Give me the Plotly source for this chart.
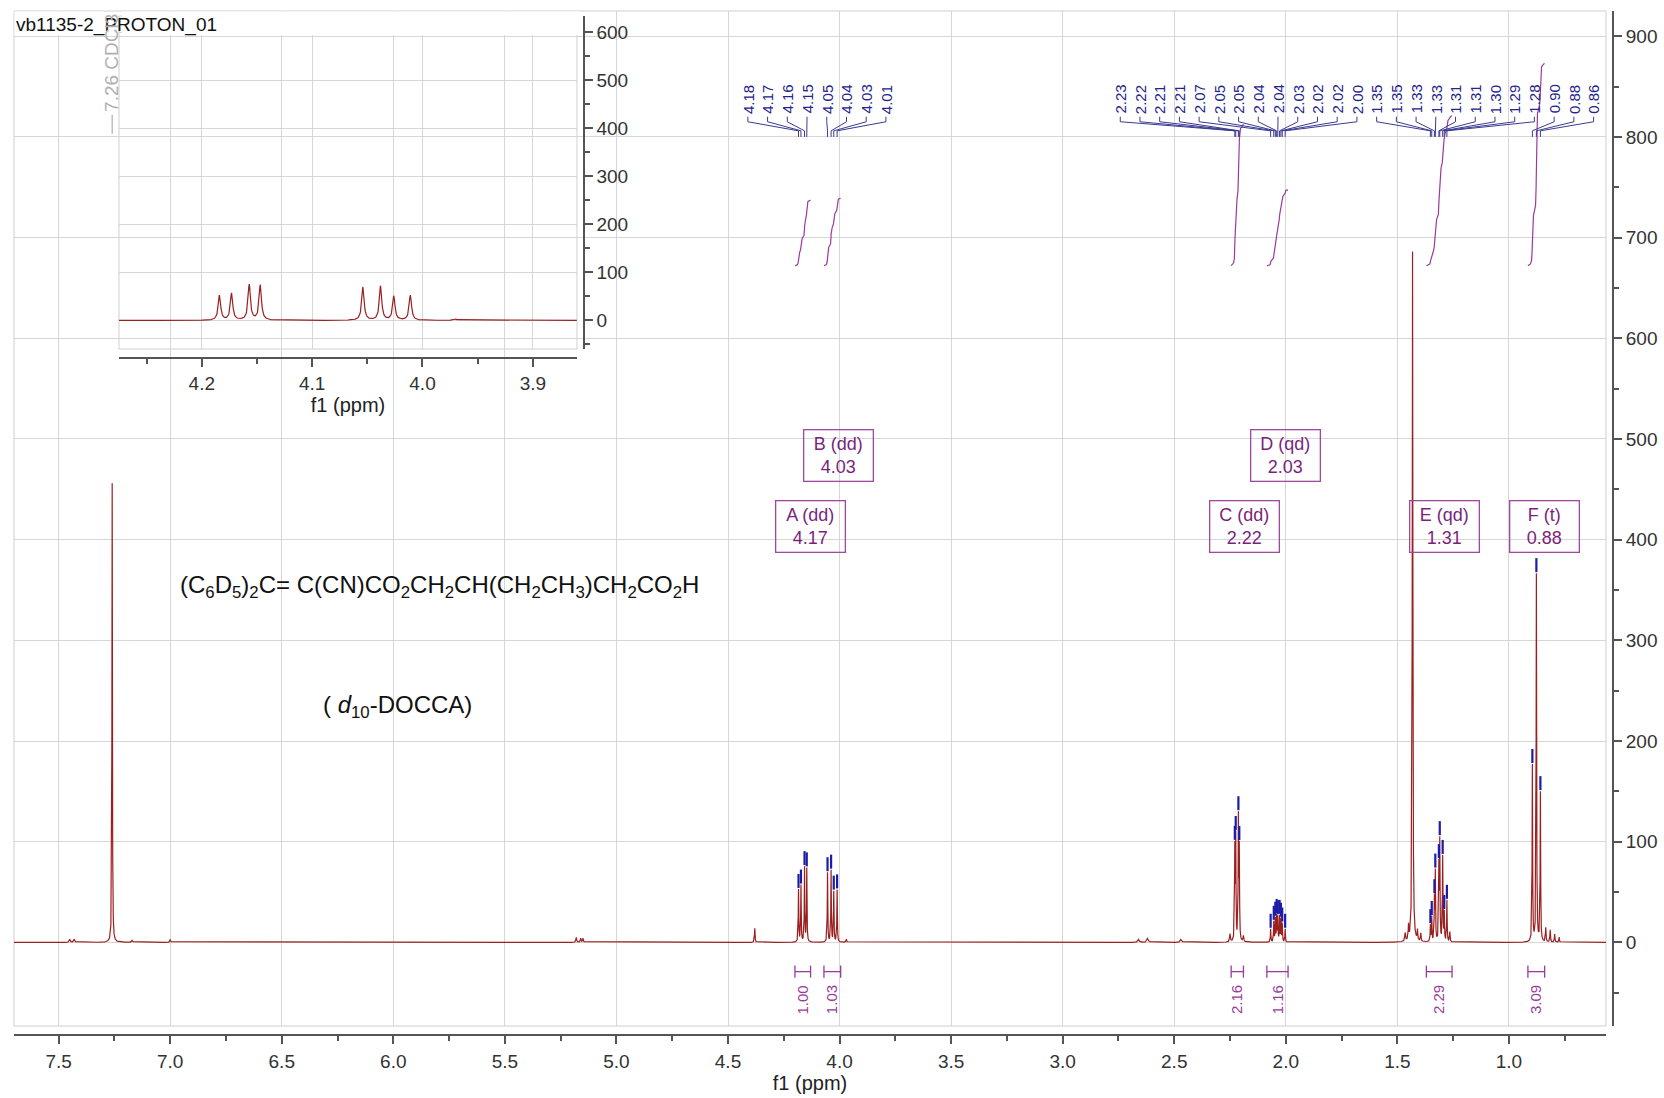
import numpy as np
import plotly.graph_objects as go

# ---------------- peak table (ppm, intensity) ----------------
picked_ppm = [4.184, 4.173, 4.157, 4.147, 4.054, 4.038, 4.026, 4.011,
              2.2285, 2.2245, 2.2125, 2.2085,
              2.068, 2.054, 2.047, 2.041, 2.036, 2.028, 2.022, 2.016, 2.003,
              1.352, 1.346, 1.334, 1.330, 1.314, 1.310, 1.297, 1.290, 1.278,
              0.895, 0.877, 0.859]
picked_height = [52, 56, 74, 73, 69, 71, 50, 52,
                 90, 100, 120, 88,
                 13, 20, 23, 25, 24, 25, 22, 18, 13,
                 16, 24, 40, 68, 72, 97, 84, 28, 41,
                 175, 365, 148]
picked_labels = ["4.18", "4.17", "4.16", "4.15", "4.05", "4.04", "4.03", "4.01",
                 "2.23", "2.22", "2.21", "2.21",
                 "2.07", "2.05", "2.05", "2.04", "2.04", "2.03", "2.02", "2.02", "2.00",
                 "1.35", "1.35", "1.33", "1.33", "1.31", "1.31", "1.30", "1.29", "1.28",
                 "0.90", "0.88", "0.86"]

# solvent, water and minor signals (not picked)
other_ppm = [7.26, 1.432, 7.45, 7.43, 7.17, 7.00, 5.18, 5.16, 5.15, 4.38, 3.97,
             2.66, 2.62, 2.47, 2.25, 2.19, 1.465, 1.45, 1.41, 1.395, 1.265,
             0.835, 0.815, 0.795, 0.775]
other_height = [456, 686, 3, 3, 2, 3, 5, 4, 4, 14, 3,
                3, 4, 3, 8, 6, 8, 14, 10, 8, 10,
                14, 12, 8, 5]
other_width = [0.0012, 0.0016, 0.003, 0.003, 0.003, 0.002, 0.002, 0.002, 0.002, 0.0015, 0.002,
               0.004, 0.004, 0.004, 0.002, 0.002, 0.002, 0.0015, 0.0015, 0.0015, 0.0015,
               0.0015, 0.0015, 0.0015, 0.0015]

# multiplet report
mult_names = ["A", "B", "C", "D", "E", "F"]
mult_types = ["dd", "dd", "dd", "qd", "qd", "t"]
mult_shifts = ["4.17", "4.03", "2.22", "2.03", "1.31", "0.88"]
integral_values = [1.00, 1.03, 2.16, 1.16, 2.29, 3.09]
integral_from = [4.20, 4.07, 2.245, 2.085, 1.37, 0.915]
integral_to = [4.13, 3.995, 2.19, 1.99, 1.255, 0.84]

# ---------------- page geometry ----------------
W, H = 1664, 1098
ML, MR, MT, MB = 14, 51, 11, 63
PW = W - ML - MR
PH = H - MT - MB


def px_x(px):
    return (px - ML) / PW


def px_y(py):
    return (H - MB - py) / PH


FONT = "Liberation Sans, Arial, sans-serif"
RED = "#9a1f1f"
BLUE = "#24248c"
PURPLE = "#983c98"
GRID = "#d6d6d6"

X_RANGE = [7.70, 0.565]
Y_RANGE = [-83, 925]
INSET_X = [4.275, 3.860]
INSET_Y = [-59.5, 634]

# ---------------- spectrum ----------------
ppm = np.union1d(np.arange(0.565, 7.7005, 0.0004),
                 np.array(picked_ppm + other_ppm))
spec = np.zeros_like(ppm)
LW = 0.0013
for p0, h in zip(picked_ppm, picked_height):
    spec += h / (1.0 + ((ppm - p0) / LW) ** 2)
for p0, h, w in zip(other_ppm, other_height, other_width):
    spec += h / (1.0 + ((ppm - p0) / w) ** 2)

fig = go.Figure()
fig.add_trace(go.Scatter(x=ppm, y=spec, mode="lines",
                         line=dict(color=RED, width=1.2), hoverinfo="skip"))

# integral curves (cumulative area from high to low field)
INT_BASE = 672
INT_SCALE = 65
ix, iy = [], []
for lo, hi, val in zip(integral_to, integral_from, integral_values):
    m = (ppm >= lo) & (ppm <= hi)
    xs = ppm[m][::-1]
    cs = np.cumsum(spec[m][::-1])
    cs = cs / cs[-1]
    ix += list(xs) + [None]
    iy += list(INT_BASE + cs * val * INT_SCALE) + [None]
fig.add_trace(go.Scatter(x=ix, y=iy, mode="lines",
                         line=dict(color=PURPLE, width=1.2), hoverinfo="skip"))

# integration brackets under the baseline
BR_Y = -29
bx, by = [], []
for lo, hi in zip(integral_to, integral_from):
    bx += [hi, lo, None, hi, hi, None, lo, lo, None]
    by += [BR_Y, BR_Y, None, BR_Y + 6, BR_Y - 6, None, BR_Y + 6, BR_Y - 6, None]
fig.add_trace(go.Scatter(x=bx, y=by, mode="lines",
                         line=dict(color=PURPLE, width=1.3), hoverinfo="skip"))

# peak-pick markers just above each picked line
pk_y = [float(np.interp(p, ppm, spec)) + 8 for p in picked_ppm]
fig.add_trace(go.Scatter(x=picked_ppm, y=pk_y, mode="markers",
                         marker=dict(symbol="line-ns", size=10,
                                     line=dict(color="#1c1ca8", width=2.2)),
                         hoverinfo="skip"))

# peak label positions: evenly spread in two groups across the top
STEP = 19.72 / 223.1
label_x = [4.411 - i * STEP for i in range(8)] + [2.742 - i * STEP for i in range(25)]
lx, ly = [], []
for lab_x, p in zip(label_x, picked_ppm):
    lx += [lab_x, lab_x, p, p, None]
    ly += [820, 815, 806, 800, None]
fig.add_trace(go.Scatter(x=lx, y=ly, mode="lines",
                         line=dict(color="#3a3a92", width=1), hoverinfo="skip"))

# zoomed inset of the 4.0-4.2 region
m_in = (ppm >= INSET_X[1]) & (ppm <= INSET_X[0])
fig.add_trace(go.Scatter(x=ppm[m_in], y=spec[m_in], mode="lines",
                         line=dict(color=RED, width=1.2), hoverinfo="skip",
                         xaxis="x2", yaxis="y2"))

annotations = []

# data set title
annotations.append(dict(
    x=px_x(14), y=px_y(25), xref="paper", yref="paper", xanchor="left",
    yanchor="middle", showarrow=False, text="vb1135-2_PROTON_01",
    font=dict(family=FONT, size=19, color="#111111")))

for lab_x, txt in zip(label_x, picked_labels):
    annotations.append(dict(x=lab_x, y=821, xref="x", yref="y", text=txt,
                            textangle=-90, showarrow=False, xanchor="center",
                            yanchor="bottom",
                            font=dict(family=FONT, size=15, color=BLUE)))

# solvent label
annotations.append(dict(x=7.26, y=823, xref="x", yref="y", text="7.26 CDCl3",
                        textangle=-90, showarrow=False, xanchor="center",
                        yanchor="bottom",
                        font=dict(family=FONT, size=19, color="#b0b0b0")))

# integral values
for lo, hi, val in zip(integral_to, integral_from, integral_values):
    annotations.append(dict(x=(lo + hi) / 2, y=-57, xref="x", yref="y",
                            text=f"{val:.2f}", textangle=-90, showarrow=False,
                            font=dict(family=FONT, size=15, color=PURPLE)))

# multiplet boxes
box_x = [4.129, 4.003, 2.183, 2.0, 1.287, 0.839]
box_y = [413, 484, 413, 484, 413, 413]
for bxp, byp, n, t, s in zip(box_x, box_y, mult_names, mult_types, mult_shifts):
    annotations.append(dict(x=bxp, y=byp, xref="x", yref="y",
                            text=f"{n} ({t})<br>{s}", showarrow=False,
                            width=62, height=44, borderpad=3,
                            bordercolor="#a048a0", borderwidth=1.3,
                            font=dict(family=FONT, size=18, color="#7c1f7c")))

# compound formula and name
annotations.append(dict(
    x=px_x(178), y=px_y(586), xref="paper", yref="paper", xanchor="left",
    yanchor="middle", showarrow=False,
    text="(C<sub>6</sub>D<sub>5</sub>)<sub>2</sub>C= C(CN)CO<sub>2</sub>CH<sub>2</sub>"
         "CH(CH<sub>2</sub>CH<sub>3</sub>)CH<sub>2</sub>CO<sub>2</sub>H",
    font=dict(family=FONT, size=24, color="#111111")))
annotations.append(dict(
    x=px_x(321), y=px_y(706), xref="paper", yref="paper", xanchor="left",
    yanchor="middle", showarrow=False,
    text="( <i>d</i><sub>10</sub>-DOCCA)",
    font=dict(family=FONT, size=24, color="#111111")))

shapes = [
    dict(type="rect", xref="x domain", yref="y domain", x0=0, x1=1, y0=0, y1=1,
         line=dict(color="#cfcfcf", width=1), layer="below"),
    dict(type="rect", xref="x2 domain", yref="y2 domain", x0=0, x1=1, y0=0, y1=1,
         line=dict(color="#cfcfcf", width=1), layer="below"),
    # white strip behind the title (left of and right of the solvent label)
    dict(type="rect", xref="paper", yref="paper", x0=px_x(14.5), x1=px_x(104),
         y0=px_y(35), y1=px_y(11.5), fillcolor="white", line=dict(width=0),
         layer="above"),
    dict(type="rect", xref="paper", yref="paper", x0=px_x(122), x1=px_x(580),
         y0=px_y(35), y1=px_y(11.5), fillcolor="white", line=dict(width=0),
         layer="above"),
    dict(type="line", xref="x", yref="y", x0=7.26, x1=7.26, y0=803, y1=822,
         line=dict(color="#b0b0b0", width=1.2)),
]

tickfont = dict(family=FONT, size=19, color="#333333")
titlefont = dict(family=FONT, size=20, color="#222222")
common = dict(showgrid=True, gridcolor=GRID, gridwidth=1, tick0=0,
              ticks="outside", ticklen=8, tickwidth=1.5, tickcolor="#555555",
              showline=True, linecolor="#555555", linewidth=2, zeroline=False,
              tickfont=tickfont, automargin=False)
fig.update_layout(
    width=W, height=H,
    margin=dict(l=ML, r=MR, t=MT, b=MB, autoexpand=False),
    paper_bgcolor="white", plot_bgcolor="rgba(0,0,0,0)",
    showlegend=False,
    annotations=annotations,
    shapes=shapes,
    xaxis=dict(domain=[0, px_x(1606)], range=X_RANGE, anchor="free", position=0,
               dtick=0.5,
               minor=dict(dtick=0.25, ticks="outside", ticklen=5, tickcolor="#555555",
                          showgrid=False),
               ticklabelstandoff=1, tickformat=".1f",
               title=dict(text="f1 (ppm)", font=titlefont, standoff=0), **common),
    yaxis=dict(domain=[px_y(1026), 1], range=Y_RANGE, anchor="free", position=1,
               side="right", dtick=100,
               minor=dict(dtick=50, ticks="outside", ticklen=5, tickcolor="#555555",
                          showgrid=False),
               **common),
    xaxis2=dict(domain=[px_x(119), px_x(577)], range=INSET_X, anchor="free",
                position=px_y(357.6), dtick=0.1,
                minor=dict(dtick=0.05, ticks="outside", ticklen=5,
                           tickcolor="#555555", showgrid=False),
                ticklabelstandoff=1, tickformat=".1f",
                title=dict(text="f1 (ppm)", font=titlefont, standoff=0), **common),
    yaxis2=dict(domain=[px_y(349), px_y(16)], range=INSET_Y, anchor="free",
                position=px_x(583.6), side="right", dtick=100,
                minor=dict(dtick=50, ticks="outside", ticklen=5,
                           tickcolor="#555555", showgrid=False),
                **common),
)

fig.write_html("out.html")
